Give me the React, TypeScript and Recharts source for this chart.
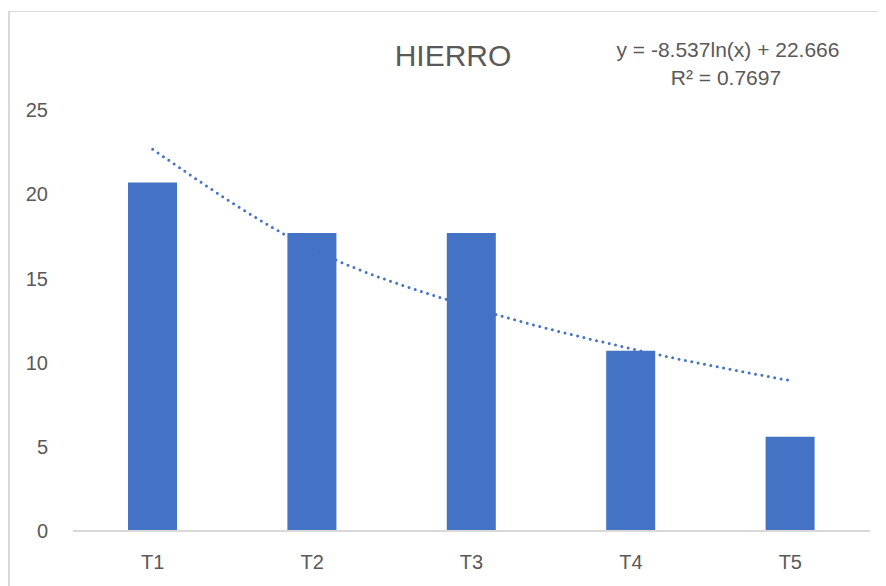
import { ComposedChart, Bar, Line, XAxis, YAxis } from "recharts";

const categories = ["T1", "T2", "T3", "T4", "T5"];
const hierro = [20.7, 17.7, 17.7, 10.7, 5.6];
// trendline values (y = -8.537ln(x) + 22.666)
const trend = [22.67, 16.75, 13.29, 10.83, 8.93];
const yTicks = [0, 5, 10, 15, 20, 25];

const data = categories.map((name, i) => ({
  name,
  hierro: hierro[i],
  trend: trend[i],
}));

const font = "'Liberation Sans', Arial, sans-serif";
const textColor = "#595959";

export default function App() {
  return (
    <div
      style={{
        position: "relative",
        width: 878,
        height: 578,
        overflow: "hidden",
        fontFamily: font,
      }}
    >
      <div
        style={{
          position: "absolute",
          top: 3,
          left: 0,
          width: 900,
          height: 600,
          borderTop: "1px solid #d9d9d9",
          borderLeft: "2px solid #d9d9d9",
        }}
      />
      <ComposedChart
        width={878}
        height={578}
        data={data}
        margin={{ top: 102, right: 16, left: 0, bottom: 0 }}
        style={{ position: "absolute", top: 0, left: 0 }}
      >
        <XAxis
          dataKey="name"
          height={55}
          tickLine={false}
          tickSize={0}
          tickMargin={24}
          axisLine={{ stroke: "#d9d9d9", strokeWidth: 2 }}
          tick={{ fill: textColor, fontSize: 20, fontFamily: font }}
        />
        <YAxis
          width={65}
          domain={[0, 25]}
          ticks={yTicks}
          axisLine={false}
          tickLine={false}
          tickSize={0}
          tickMargin={25}
          tick={{ fill: textColor, fontSize: 20, fontFamily: font }}
        />
        <Bar
          dataKey="hierro"
          fill="#4472C4"
          barSize={49}
          isAnimationActive={false}
        />
        <Line
          dataKey="trend"
          type="monotone"
          stroke="#4472C4"
          strokeWidth={3}
          strokeDasharray="0 6.5"
          strokeLinecap="round"
          dot={false}
          activeDot={false}
          isAnimationActive={false}
        />
      </ComposedChart>
      <svg
        width={878}
        height={578}
        style={{ position: "absolute", top: 0, left: 0, pointerEvents: "none" }}
      >
        <text
          x={445}
          y={58}
          textAnchor="middle"
          fontSize={30}
          fill={textColor}
          fontFamily={font}
        >
          HIERRO
        </text>
        <text
          x={720}
          y={49}
          textAnchor="middle"
          fontSize={21}
          fill={textColor}
          fontFamily={font}
        >
          y = -8.537ln(x) + 22.666
        </text>
        <text
          x={718}
          y={77}
          textAnchor="middle"
          fontSize={21}
          fill={textColor}
          fontFamily={font}
        >
          R² = 0.7697
        </text>
      </svg>
    </div>
  );
}
